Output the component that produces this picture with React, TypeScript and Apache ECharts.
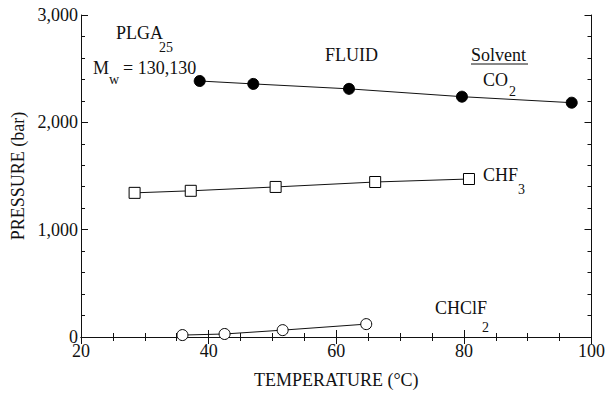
import React, { useEffect, useRef } from "react";
import * as echarts from "echarts";

const co2Temp = [38.6, 47.0, 62.0, 79.7, 96.9];
const co2Pressure = [2385, 2358, 2312, 2239, 2183];
const chf3Temp = [28.4, 37.2, 50.5, 66.1, 80.8];
const chf3Pressure = [1343, 1362, 1398, 1444, 1472];
const chclf2Temp = [35.9, 42.5, 51.6, 64.7];
const chclf2Pressure = [18, 28, 64, 120];
const xTicks = [20, 40, 60, 80, 100];
const yTicks = [0, 1000, 2000, 3000];

const FONT = "Liberation Serif";
const INK = "#111";

function pairs(xs: number[], ys: number[]) {
  return xs.map((x, i) => [x, ys[i]]);
}

function txt(text: string, x: number, y: number, size = 18) {
  return {
    type: "text",
    x,
    y,
    silent: true,
    style: {
      text,
      fontFamily: FONT,
      fontSize: size,
      fill: INK,
      verticalAlign: "top",
      align: "left",
    },
  };
}

export default function App() {
  const ref = useRef<HTMLDivElement>(null);
  useEffect(() => {
    if (!ref.current) return;
    const chart = echarts.init(ref.current, undefined, { renderer: "svg" });
    const axisCommon = {
      type: "value",
      axisLine: { show: true, lineStyle: { color: INK, width: 1 } },
      axisTick: { show: true, inside: true, length: 7, lineStyle: { color: INK } },
      minorTick: { show: true, length: 4, lineStyle: { color: INK } },
      splitLine: { show: false },
    };
    chart.setOption({
      animation: false,
      backgroundColor: "#fff",
      textStyle: { fontFamily: FONT },
      grid: { left: 81, right: 15, top: 15, bottom: 53, containLabel: false },
      xAxis: [
        {
          ...axisCommon,
          min: xTicks[0],
          max: xTicks[xTicks.length - 1],
          interval: 20,
          minorTick: { ...axisCommon.minorTick, splitNumber: 4 },
          axisLabel: { color: INK, fontFamily: FONT, fontSize: 18, margin: 5 },
          name: "TEMPERATURE (°C)",
          nameLocation: "middle",
          nameGap: 34,
          nameTextStyle: { color: INK, fontFamily: FONT, fontSize: 18 },
        },
        {
          ...axisCommon,
          position: "top",
          min: xTicks[0],
          max: xTicks[xTicks.length - 1],
          interval: 20,
          minorTick: { ...axisCommon.minorTick, splitNumber: 4 },
          axisLabel: { show: false },
        },
      ],
      yAxis: [
        {
          ...axisCommon,
          min: yTicks[0],
          max: yTicks[yTicks.length - 1],
          interval: 1000,
          minorTick: { ...axisCommon.minorTick, splitNumber: 5 },
          axisLabel: {
            color: INK,
            fontFamily: FONT,
            fontSize: 18,
            margin: 3,
            formatter: (v: number) => v.toLocaleString("en-US"),
          },
          name: "PRESSURE (bar)",
          nameLocation: "middle",
          nameGap: 48,
          nameTextStyle: { color: INK, fontFamily: FONT, fontSize: 18 },
        },
        {
          ...axisCommon,
          position: "right",
          min: yTicks[0],
          max: yTicks[yTicks.length - 1],
          interval: 1000,
          minorTick: { ...axisCommon.minorTick, splitNumber: 5 },
          axisLabel: { show: false },
        },
      ],
      series: [
        {
          name: "CO2",
          type: "line",
          data: pairs(co2Temp, co2Pressure),
          symbol: "circle",
          symbolSize: 11,
          itemStyle: { color: "#000", borderColor: "#000" },
          lineStyle: { color: INK, width: 1 },
        },
        {
          name: "CHF3",
          type: "line",
          data: pairs(chf3Temp, chf3Pressure),
          symbol: "rect",
          symbolSize: 11,
          itemStyle: { color: "#fff", borderColor: "#000", borderWidth: 1 },
          lineStyle: { color: INK, width: 1 },
        },
        {
          name: "CHClF2",
          type: "line",
          data: pairs(chclf2Temp, chclf2Pressure),
          symbol: "circle",
          symbolSize: 11,
          itemStyle: { color: "#fff", borderColor: "#000", borderWidth: 1 },
          lineStyle: { color: INK, width: 1 },
        },
      ],
      graphic: [
        txt("PLGA", 116, 24),
        txt("25", 159, 40, 14),
        txt("M", 93, 59),
        txt("w", 109, 72, 14),
        txt("= 130,130", 123, 59),
        txt("FLUID", 325, 46),
        txt("Solvent", 471, 46),
        { type: "line", silent: true, shape: { x1: 471, y1: 64, x2: 528, y2: 64 }, style: { stroke: INK, lineWidth: 1 } },
        txt("CO", 483, 71),
        txt("2", 509, 84, 14),
        txt("CHF", 483, 166),
        txt("3", 518, 182, 14),
        txt("CHClF", 435, 299),
        txt("2", 482, 320, 14),
      ],
    });
    return () => chart.dispose();
  }, []);
  return (
    <div
      ref={ref}
      style={{ position: "fixed", left: 0, top: 0, width: 608, height: 394, background: "#fff" }}
    />
  );
}
